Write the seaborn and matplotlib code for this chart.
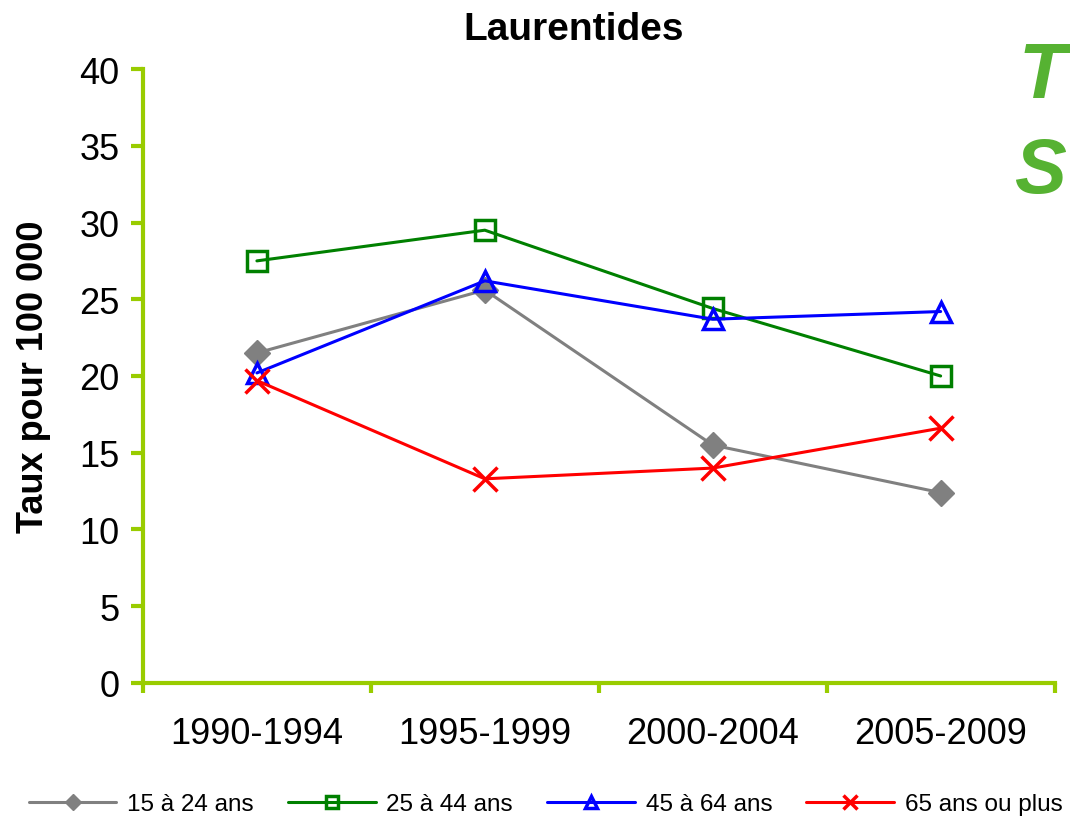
import matplotlib
matplotlib.use('Agg')
import matplotlib.pyplot as plt
import seaborn as sns

periods = ['1990-1994', '1995-1999', '2000-2004', '2005-2009']
groups = ['15 à 24 ans', '25 à 44 ans', '45 à 64 ans', '65 ans ou plus']
v_15_24 = [21.5, 25.6, 15.5, 12.4]
v_25_44 = [27.5, 29.5, 24.4, 20.0]
v_45_64 = [20.2, 26.2, 23.7, 24.2]
v_65_plus = [19.7, 13.3, 14.0, 16.6]
series = [v_15_24, v_25_44, v_45_64, v_65_plus]
colors = ['#808080', '#008000', '#0000FF', '#FF0000']
markers = ['D', 's', '^', 'x']
msizes = [13, 14.5, 15, 17]
y_ticks = [0, 5, 10, 15, 20, 25, 30, 35, 40]

sns.set_style('white')
plt.rcParams['font.family'] = ['Liberation Sans', 'DejaVu Sans']
plt.rcParams['text.color'] = 'black'
plt.rcParams['axes.labelcolor'] = 'black'

fig = plt.figure(figsize=(10.7, 8.2), dpi=100)
ax = fig.add_axes([0.1336, 0.1659, 0.852, 0.7487])

spine_col = '#99CC00'
for i, (name, vals) in enumerate(zip(groups, series)):
    filled = markers[i] in ('D', 'x')
    sns.lineplot(x=list(range(len(periods))), y=vals, ax=ax, color=colors[i],
                 linewidth=2.2, marker=markers[i], markersize=msizes[i],
                 markerfacecolor=colors[i] if filled else 'none',
                 markeredgecolor=colors[i], markeredgewidth=2.5 if markers[i] != 'D' else 1,
                 label=name, legend=False)

ax.set_xlim(-0.5, 3.5)
ax.set_ylim(0, 40)
ax.set_xticks([-0.5, 0.5, 1.5, 2.5, 3.5])
ax.set_xticklabels([])
ax.set_xticks(range(len(periods)), minor=True)
ax.set_xticklabels(periods, minor=True, fontsize=26)
ax.tick_params(axis='x', which='minor', length=0, pad=24, labelcolor='black')
ax.tick_params(axis='x', which='major', length=7, width=3, color=spine_col, direction='out')
ax.tick_params(axis='x', bottom=True, which='both')
ax.set_yticks(y_ticks)
ax.set_yticklabels([str(t) for t in y_ticks], fontsize=26)
ax.tick_params(axis='y', length=9, width=3, color=spine_col, direction='out', pad=8,
               left=True, labelcolor='black')

for s in ['top', 'right']:
    ax.spines[s].set_visible(False)
for s in ['left', 'bottom']:
    ax.spines[s].set_color(spine_col)
    ax.spines[s].set_linewidth(3)

ax.set_ylabel('Taux pour 100 000', fontsize=26, fontweight='bold', labelpad=20)
ax.set_xlabel('')
fig.text(0.536, 0.963, 'Laurentides', fontsize=28, fontweight='bold', ha='center', va='center')

handles, labels = ax.get_legend_handles_labels()
fig.legend(handles, labels, loc='center', bbox_to_anchor=(0.51, 0.018), ncol=4,
           frameon=False, handlelength=3.6, columnspacing=1.4,
           handletextpad=0.45, markerscale=0.6,
           prop={'family': ['Liberation Sans Narrow', 'Liberation Sans', 'DejaVu Sans'], 'size': 17.5})

# logo at the right edge
fig.text(0.996, 0.905, 'T', color='#56B232', fontsize=56, fontweight='bold', style='italic',
         ha='right', va='center')
fig.text(0.996, 0.79, 'S', color='#56B232', fontsize=56, fontweight='bold', style='italic',
         ha='right', va='center')

fig.savefig('out.png', dpi=100)
